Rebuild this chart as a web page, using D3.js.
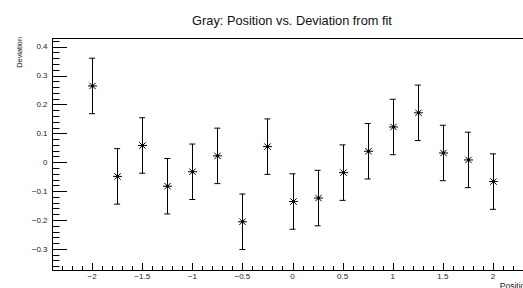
<!DOCTYPE html>
<html>
<head>
<meta charset="UTF-8">
<script src="https://d3js.org/d3.v7.min.js"></script>
<style>
  body { margin: 0; background: #fff; overflow: hidden; }
  text { font-family: "Liberation Sans", Arial, sans-serif; }
  .lbl { font-size: 8px; fill: #222; }
</style>
</head>
<body>
<svg id="chart" width="523" height="288"></svg>
<script>
// data
const positions = [-2, -1.75, -1.5, -1.25, -1, -0.75, -0.5, -0.25, 0, 0.25, 0.5, 0.75, 1, 1.25, 1.5, 1.75, 2]
const deviations = [0.264, -0.049, 0.058, -0.083, -0.033, 0.022, -0.206, 0.054, -0.136, -0.124, -0.036, 0.038, 0.122, 0.171, 0.032, 0.008, -0.067]
const errors = [0.096, 0.096, 0.096, 0.096, 0.096, 0.096, 0.096, 0.096, 0.096, 0.096, 0.096, 0.096, 0.096, 0.096, 0.096, 0.096, 0.096]
const xLabels = [-2, -1.5, -1, -0.5, 0, 0.5, 1, 1.5, 2]
const yLabels = [-0.3, -0.2, -0.1, 0, 0.1, 0.2, 0.3, 0.4]

const svg = d3.select("#chart")
const fLeft = 52, fRight = 533, fTop = 38, fBottom = 270

const x = d3.scaleLinear().domain([-2.4, 2.4]).range([fLeft, fRight])
const y = d3.scaleLinear().domain([-0.373, 0.430]).range([fBottom, fTop])

// frame
svg.append("rect")
    .attr("x", fLeft + 0.5).attr("y", fTop + 0.5)
    .attr("width", fRight - fLeft).attr("height", fBottom - fTop)
    .attr("fill", "none").attr("stroke", "#000").attr("stroke-width", 1)

// y ticks: major every 0.1, minor every 0.02
const yMinor = d3.range(-18, 22).map(d => d / 50).filter(d => d >= -0.373 && d <= 0.43)
svg.append("g").selectAll("line").data(yMinor).join("line")
    .attr("x1", fLeft).attr("x2", d => Math.abs(Math.round(d * 50) % 5) === 0 ? fLeft + 15 : fLeft + 7.5)
    .attr("y1", d => Math.round(y(d)) + 0.5).attr("y2", d => Math.round(y(d)) + 0.5)
    .attr("stroke", "#000").attr("stroke-width", 1)

svg.append("g").selectAll("text").data(yLabels).join("text")
    .attr("class", "lbl")
    .attr("x", 47.5).attr("y", d => y(d) + 2.8)
    .attr("text-anchor", "end")
    .text(d => d3.format("")(d))

// x ticks: labelled every 0.5, minor every 0.1
const xMinor = d3.range(-23, 24).map(d => d / 10)
svg.append("g").selectAll("line").data(xMinor).join("line")
    .attr("x1", d => Math.round(x(d)) + 0.5).attr("x2", d => Math.round(x(d)) + 0.5)
    .attr("y1", fBottom).attr("y2", d => Math.abs(Math.round(d * 10) % 5) === 0 ? fBottom - 7 : fBottom - 4)
    .attr("stroke", "#000").attr("stroke-width", 1)

svg.append("g").selectAll("text").data(xLabels).join("text")
    .attr("class", "lbl")
    .attr("x", d => x(d)).attr("y", 278.5)
    .attr("text-anchor", "middle")
    .text(d => d3.format("")(d))

// title and axis titles
svg.append("text").attr("x", 292).attr("y", 25)
    .attr("text-anchor", "middle").attr("font-size", 12.8).attr("fill", "#111")
    .text("Gray: Position vs. Deviation from fit")

svg.append("text").attr("transform", "translate(22,37) rotate(-90)")
    .attr("text-anchor", "end").attr("font-size", 7.4).attr("fill", "#222")
    .text("Deviation")

svg.append("text").attr("x", 530).attr("y", 288.5)
    .attr("text-anchor", "end").attr("font-size", 8.5).attr("fill", "#222")
    .text("Position")

// error bars with caps
const pts = positions.map((p, i) => ({ p: p, v: deviations[i], e: errors[i] }))
const bars = svg.append("g").selectAll("g").data(pts).join("g")
bars.append("line")
    .attr("x1", d => Math.round(x(d.p)) + 0.5).attr("x2", d => Math.round(x(d.p)) + 0.5)
    .attr("y1", d => y(d.v + d.e)).attr("y2", d => y(d.v - d.e))
    .attr("stroke", "#000")
bars.append("line")
    .attr("x1", d => x(d.p) - 3).attr("x2", d => x(d.p) + 3)
    .attr("y1", d => y(d.v + d.e)).attr("y2", d => y(d.v + d.e))
    .attr("stroke", "#000")
bars.append("line")
    .attr("x1", d => x(d.p) - 3).attr("x2", d => x(d.p) + 3)
    .attr("y1", d => y(d.v - d.e)).attr("y2", d => y(d.v - d.e))
    .attr("stroke", "#000")

// asterisk markers
const star = "M-4.5,0L4.5,0M0,-4.5L0,4.5M-3.2,-3.2L3.2,3.2M-3.2,3.2L3.2,-3.2"
bars.append("path")
    .attr("transform", d => `translate(${Math.round(x(d.p)) + 0.5},${y(d.v)})`)
    .attr("d", star).attr("stroke", "#000").attr("stroke-width", 1).attr("fill", "none")
bars.append("circle")
    .attr("cx", d => Math.round(x(d.p)) + 0.5).attr("cy", d => y(d.v))
    .attr("r", 1.4).attr("fill", "#000")
</script>
</body>
</html>
